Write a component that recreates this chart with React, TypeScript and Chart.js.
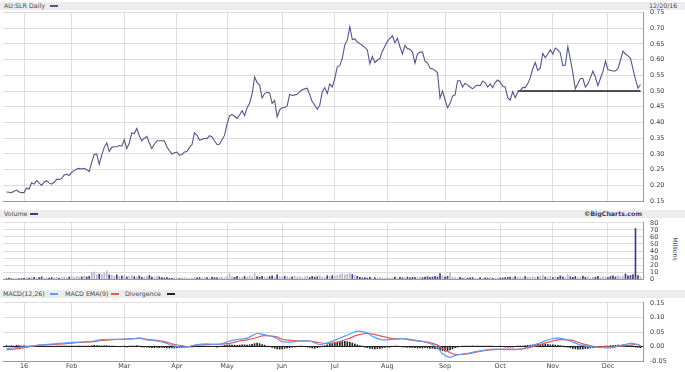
import React, { useEffect, useRef } from 'react';
import { Chart, registerables } from 'chart.js';
Chart.register(...registerables);

// ---------- categories (ASX trading days, 21 Dec 2015 – 20 Dec 2016) ----------
const asxHolidays = ['2015-12-25', '2015-12-28', '2016-01-01', '2016-01-26', '2016-03-25', '2016-03-28', '2016-04-25', '2016-06-13'];
function buildTradingDays(start: string, end: string, holidays: string[]): string[] {
  const out: string[] = [];
  const d = new Date(start + 'T00:00:00Z');
  const e = new Date(end + 'T00:00:00Z');
  while (d <= e) {
    const wd = d.getUTCDay();
    const iso = d.toISOString().slice(0, 10);
    if (wd !== 0 && wd !== 6 && holidays.indexOf(iso) < 0) out.push(iso);
    d.setUTCDate(d.getUTCDate() + 1);
  }
  return out;
}
const tradingDays = buildTradingDays('2015-12-21', '2016-12-20', asxHolidays);
const monthTickLabels = ['16', 'Feb', 'Mar', 'Apr', 'May', 'Jun', 'Jul', 'Aug', 'Sep', 'Oct', 'Nov', 'Dec'];
const monthTickDays = tradingDays
  .map((d, i) => ({ d, i }))
  .filter(({ d, i }) => i > 0 && d.slice(5, 7) !== tradingDays[i - 1].slice(5, 7))
  .map((o) => o.i);

// ---------- price (daily close) ----------
const closePrice = [
  0.179, 0.178, 0.177, 0.181, 0.185, 0.179, 0.177, 0.177, 0.192, 0.188,
  0.208, 0.204, 0.215, 0.208, 0.200, 0.210, 0.215, 0.208, 0.204, 0.210,
  0.219, 0.219, 0.222, 0.233, 0.235, 0.231, 0.242, 0.247, 0.252, 0.254,
  0.252, 0.254, 0.250, 0.244, 0.273, 0.298, 0.300, 0.267, 0.296, 0.321,
  0.335, 0.308, 0.321, 0.323, 0.323, 0.327, 0.325, 0.346, 0.317, 0.335,
  0.367, 0.365, 0.381, 0.358, 0.342, 0.350, 0.356, 0.335, 0.317, 0.331,
  0.342, 0.342, 0.342, 0.342, 0.323, 0.310, 0.300, 0.304, 0.306, 0.296,
  0.298, 0.306, 0.308, 0.321, 0.329, 0.367, 0.360, 0.344, 0.346, 0.350,
  0.348, 0.358, 0.354, 0.342, 0.330, 0.331, 0.345, 0.359, 0.395, 0.421,
  0.426, 0.420, 0.413, 0.424, 0.438, 0.422, 0.447, 0.461, 0.490, 0.545,
  0.527, 0.519, 0.478, 0.492, 0.496, 0.494, 0.461, 0.470, 0.418, 0.440,
  0.447, 0.447, 0.453, 0.490, 0.486, 0.488, 0.490, 0.498, 0.504, 0.507,
  0.509, 0.488, 0.467, 0.455, 0.442, 0.455, 0.498, 0.511, 0.492, 0.523,
  0.513, 0.540, 0.577, 0.581, 0.604, 0.647, 0.662, 0.705, 0.664, 0.666,
  0.656, 0.651, 0.645, 0.639, 0.631, 0.587, 0.610, 0.591, 0.598, 0.604,
  0.627, 0.643, 0.658, 0.668, 0.676, 0.653, 0.668, 0.641, 0.618, 0.645,
  0.635, 0.633, 0.625, 0.589, 0.618, 0.624, 0.624, 0.595, 0.589, 0.573,
  0.570, 0.566, 0.558, 0.478, 0.500, 0.472, 0.447, 0.461, 0.484, 0.488,
  0.533, 0.533, 0.513, 0.525, 0.519, 0.513, 0.507, 0.515, 0.519, 0.517,
  0.531, 0.527, 0.513, 0.523, 0.511, 0.527, 0.535, 0.529, 0.515, 0.513,
  0.479, 0.471, 0.498, 0.479, 0.496, 0.502, 0.511, 0.511, 0.523, 0.542,
  0.571, 0.591, 0.566, 0.573, 0.620, 0.606, 0.618, 0.631, 0.618, 0.637,
  0.631, 0.622, 0.581, 0.583, 0.641, 0.602, 0.558, 0.507, 0.523, 0.540,
  0.540, 0.513, 0.523, 0.542, 0.564, 0.544, 0.517, 0.540, 0.562, 0.595,
  0.568, 0.566, 0.564, 0.564, 0.571, 0.598, 0.627, 0.618, 0.612, 0.604,
  0.571, 0.537, 0.509, 0.521,
];
const supportLevel = 0.5;
const supportFrom = '2016-10-12';

// ---------- volume (millions) ----------
const volumeMillions = [
  0.5, 1.5, 0.8, 0.6, 0.5, 0.6, 0.8, 1.2,
  2.0, 1.5, 3.0, 2.5, 1.8, 2.2, 3.2, 1.6, 2.0, 1.5, 2.4, 1.8, 2.6, 1.5, 2.2, 3.0, 2.0, 2.8,
  3.5, 2.5, 4.0, 2.8, 3.2, 4.5, 3.0, 3.8,
  9.5, 10.5, 6.0,
  7.0, 6.5, 8.0, 11.5, 6.0,
  5.5, 4.0, 6.0, 3.5, 4.5, 5.0, 3.0, 4.0, 5.5, 3.5, 3.0, 4.5, 2.5,
  3.0,
  3.8, 5.0, 3.0, 2.5, 4.0, 3.2, 2.0,
  1.5, 2.0, 1.2, 1.0, 2.5, 1.5, 1.0, 1.8, 2.2, 1.2, 1.5, 1.0, 2.5, 1.8, 2.2, 1.5, 2.8, 2.0, 1.5, 3.0, 2.2, 1.8, 2.5, 3.0, 2.0, 3.5,
  8.0, 3.5, 2.5, 4.0, 3.0, 2.2, 3.8, 2.8, 4.5, 3.0,
  8.0,
  3.5, 2.5, 4.0, 3.0, 2.0, 3.5, 4.5, 2.8, 6.0, 3.0, 2.5, 4.0, 3.5, 2.2, 3.0, 4.5, 2.8, 3.5, 2.0, 3.0, 4.2, 2.5, 3.8, 2.8, 3.2, 4.5, 3.0, 2.5, 4.8, 3.5, 5.0, 4.0, 5.5,
  6.5, 7.5, 6.0, 7.0, 8.0, 6.5, 5.0, 4.0,
  2.5, 1.8, 2.2, 1.5, 2.8, 1.2, 2.0, 1.5, 2.5, 1.8, 1.2, 2.2, 1.5, 2.0, 2.8, 1.6, 2.4, 1.8, 2.2, 3.0, 1.8, 2.5, 2.0, 2.8, 3.2, 2.2, 3.0, 3.5, 2.5,
  3.0,
  4.0, 3.0,
  8.0, 5.0, 3.0, 4.0, 8.5,
  3.0, 2.0, 1.5, 2.5, 1.2, 2.0, 1.5, 1.8, 2.2, 1.2, 1.5, 2.0, 1.2, 1.8, 1.5, 2.5, 1.2, 1.6, 2.0, 1.4, 1.8, 2.2,
  2.5, 3.0, 2.2, 3.5, 2.5, 3.0, 2.0, 3.8, 2.5, 2.8, 3.2, 2.2, 3.0, 4.0,
  5.5,
  3.0, 2.5, 4.0, 2.2, 3.5, 2.8, 4.5, 3.0, 2.5, 6.0, 3.2, 2.5, 3.8, 2.2, 3.0, 4.2, 2.5, 3.5, 2.0, 3.0, 2.8, 4.0, 2.5, 3.2, 3.5, 2.2, 3.8, 4.5, 3.0, 5.0, 3.5, 4.0,
  7.5, 4.5, 5.0, 6.5,
  72,
  5.0, 3.0,
];

// ---------- MACD(12,26), EMA(9), divergence ----------
const macdDays = [0, 5, 9, 13, 19, 24, 29, 35, 37, 41, 47, 51, 53, 56, 60, 64, 66, 70, 72, 76, 80, 85, 89, 93, 96, 100, 102, 105, 108, 110, 113, 117, 121, 125, 129, 132, 137, 140, 144, 146, 150, 154, 158, 162, 168, 172, 174, 177, 179, 184, 189, 194, 200, 205, 209, 213, 217, 220, 224, 226, 230, 234, 240, 245, 249, 252, 253];
const macdLine = [-0.007, -0.003, 0.001, 0.005, 0.009, 0.013, 0.015, 0.019, 0.023, 0.025, 0.025, 0.027, 0.030, 0.023, 0.019, 0.011, 0.003, -0.002, -0.001, 0.007, 0.009, 0.007, 0.019, 0.025, 0.029, 0.045, 0.043, 0.037, 0.027, 0.017, 0.015, 0.019, 0.019, 0.007, 0.015, 0.025, 0.043, 0.053, 0.047, 0.035, 0.023, 0.025, 0.027, 0.023, 0.013, -0.003, -0.025, -0.037, -0.031, -0.023, -0.015, -0.009, -0.011, -0.009, 0.001, 0.013, 0.025, 0.029, 0.023, 0.015, 0.003, -0.001, -0.005, 0.003, 0.011, 0.007, 0.001];
const macdSignal = [-0.011, -0.007, -0.001, 0.005, 0.007, 0.010, 0.014, 0.017, 0.020, 0.023, 0.026, 0.027, 0.028, 0.025, 0.021, 0.015, 0.009, 0.003, -0.001, 0.005, 0.007, 0.008, 0.011, 0.019, 0.023, 0.031, 0.037, 0.037, 0.033, 0.025, 0.021, 0.019, 0.019, 0.013, 0.011, 0.015, 0.029, 0.039, 0.045, 0.043, 0.035, 0.027, 0.027, 0.021, 0.015, 0.005, -0.007, -0.021, -0.027, -0.025, -0.017, -0.011, -0.009, -0.009, -0.003, 0.007, 0.017, 0.023, 0.023, 0.021, 0.009, 0.001, -0.001, 0.001, 0.005, 0.007, 0.003];
const divergence = [
  0.003, 0.002, 0.003, 0.002, 0.004, 0.003, 0.002, 0.003, 0.002, 0.002, 0.001, 0.002,
  0.002, 0.001, 0.002, 0.001, 0.002, 0.001, 0.001, 0.002, 0.001, 0.001, 0.002, 0.002, 0.001, 0.002,
  0.002, 0.001, 0.001, 0.002, 0.001, 0.001, 0.001, 0.001, 0.003, 0.004, 0.003, 0.003, 0.002, 0.003, 0.003, 0.002, 0.001, 0.001, 0.000, 0.000,
  0.000, 0.001, -0.001, 0.001, 0.002, 0.002, 0.003, 0.001, -0.001,
  -0.001,
  -0.001, -0.003,
  -0.004, -0.004, -0.003, -0.004, -0.003, -0.004, -0.005, -0.005, -0.005, -0.005, -0.004, -0.004, -0.003, -0.003, -0.002, -0.001, -0.001,
  0.001, 0.002, 0.001, 0.001, 0.002, 0.001, 0.001, 0.000, 0.000, -0.001, 0.000, 0.002, 0.004, 0.005,
  0.006, 0.005, 0.005, 0.004, 0.005, 0.006, 0.006, 0.005, 0.006, 0.008, 0.010, 0.012, 0.010, 0.007, 0.005,
  0.002, 0.000, -0.003, -0.006, -0.008, -0.009, -0.008, -0.006, -0.005, -0.004, -0.002, -0.001, 0.000, 0.001,
  0.001, 0.000, -0.002, -0.003, -0.005, -0.006, -0.004, -0.002, 0.001, 0.003, 0.006,
  0.008, 0.010, 0.012, 0.014, 0.016, 0.017, 0.018, 0.017, 0.015, 0.012, 0.009, 0.006, 0.003, 0.001, -0.002, -0.004, -0.006,
  -0.007, -0.008, -0.007, -0.006, -0.005, -0.003, -0.002, -0.001, 0.000, 0.001, 0.001, 0.000, -0.001, -0.002, -0.003,
  -0.003, -0.004, -0.004, -0.005, -0.005, -0.005, -0.004, -0.005, -0.006,
  -0.006,
  -0.007, -0.008,
  -0.012, -0.014, -0.016, -0.015, -0.012, -0.008, -0.004, -0.002,
  0.000, 0.001, 0.001, 0.002, 0.001, 0.002, 0.001, 0.002, 0.002, 0.001, 0.002, 0.001, 0.001, 0.001, 0.000, 0.000, 0.001, 0.000, -0.001, -0.002, -0.002, -0.001, 0.000, 0.001, 0.002, 0.002, 0.003, 0.004,
  0.005, 0.006, 0.007, 0.008, 0.008, 0.007, 0.008, 0.007, 0.006, 0.006, 0.005, 0.004, 0.003, 0.001, -0.001,
  -0.002, -0.004, -0.006, -0.008, -0.009, -0.009, -0.008, -0.007, -0.006, -0.005, -0.004, -0.003, -0.002, -0.001,
  0.000, 0.001, 0.002, 0.003, 0.003, 0.004, 0.005, 0.005, 0.006, 0.005, 0.004, 0.003, 0.001, -0.001, -0.003, -0.004,
];

// ---------- styles ----------
const FONT = 'DejaVu Sans';
const GRID = '#dddddd';
const BORDER = '#9a9a9a';
const TICK = '#444444';
const PRICE_COLOR = '#55558a';
const VOL_DARK = '#3d3d7a';
const VOL_LIGHT = '#b6b6cc';
const MACD_BLUE = '#5c9cff';
const MACD_RED = '#e05a5a';
const X_MIN = -1.4;
const X_MAX = 254;

function xScale(showLabels: boolean): any {
  return {
    type: 'linear',
    min: X_MIN,
    max: X_MAX,
    offset: false,
    afterBuildTicks: (s: any) => {
      s.ticks = monthTickDays.map((v) => ({ value: v }));
    },
    afterFit: (s: any) => {
      s.height = showLabels ? 9 : 0;
    },
    grid: { color: GRID, drawTicks: false, lineWidth: 1, offset: false },
    border: { display: true, color: BORDER },
    ticks: {
      display: showLabels,
      autoSkip: false,
      maxRotation: 0,
      padding: 1,
      font: { family: FONT, size: 6.5 },
      color: TICK,
      callback: (v: number) => {
        const k = monthTickDays.indexOf(v);
        return k >= 0 ? monthTickLabels[k] : '';
      },
    },
  };
}

function yScale(min: number, max: number, step: number, fmt: (v: number) => string, zeroLine = false): any {
  return {
    position: 'right',
    min,
    max,
    afterBuildTicks: (s: any) => {
      const t: any[] = [];
      const n = Math.round((max - min) / step);
      for (let k = 0; k <= n; k++) t.push({ value: +(min + k * step).toFixed(4) });
      s.ticks = t;
    },
    afterFit: (s: any) => {
      s.width = 42;
    },
    grid: {
      drawTicks: false,
      color: (c: any) => (zeroLine && c.tick && Math.abs(c.tick.value) < 1e-9 ? '#222222' : GRID),
    },
    border: { display: true, color: BORDER },
    ticks: { autoSkip: false, padding: 7, font: { family: FONT, size: 6.5 }, color: TICK, callback: fmt },
  };
}

function ChartCanvas({ top, height, padTop, padBottom, build }: { top: number; height: number; padTop: number; padBottom: number; build: () => any }) {
  const ref = useRef<HTMLCanvasElement | null>(null);
  useEffect(() => {
    if (!ref.current) return;
    const cfg = build();
    cfg.options = {
      ...cfg.options,
      animation: false,
      responsive: false,
      maintainAspectRatio: false,
      devicePixelRatio: 1,
      layout: { padding: { left: 3, right: 0, top: padTop, bottom: padBottom } },
      plugins: { legend: { display: false }, tooltip: { enabled: false } },
    };
    const chart = new Chart(ref.current, cfg);
    return () => chart.destroy();
  }, []);
  return (
    <canvas
      ref={ref}
      width={685}
      height={height}
      style={{ position: 'absolute', left: 0, top, width: 685, height }}
    />
  );
}

function buildPrice(): any {
  const supportStart = tradingDays.indexOf(supportFrom);
  const supportData = tradingDays
    .map((_, i) => ({ x: i, y: supportLevel }))
    .filter((p) => p.x >= supportStart);
  return {
    type: 'line',
    data: {
      datasets: [
        {
          data: supportData,
          borderColor: '#1a1a1a',
          borderWidth: 1.5,
          pointRadius: 0,
          order: 2,
        },
        {
          data: closePrice.map((v, i) => ({ x: i, y: v })),
          borderColor: PRICE_COLOR,
          borderWidth: 1.1,
          pointRadius: 0,
          tension: 0,
          order: 1,
        },
      ],
    },
    options: {
      scales: {
        x: xScale(false),
        y: yScale(0.15, 0.75, 0.05, (v: number) => v.toFixed(2)),
      },
    },
  };
}

function buildVolume(): any {
  return {
    type: 'bar',
    data: {
      datasets: [
        {
          data: volumeMillions.map((v, i) => ({ x: i, y: v })),
          backgroundColor: volumeMillions.map((_, i) =>
            i > 0 && closePrice[i] > closePrice[i - 1] ? VOL_LIGHT : VOL_DARK
          ),
          barThickness: 1,
        },
      ],
    },
    options: {
      scales: {
        x: xScale(false),
        y: yScale(0, 80, 10, (v: number) => String(v)),
      },
    },
  };
}

function buildMacd(): any {
  return {
    type: 'bar',
    data: {
      datasets: [
        {
          type: 'line',
          data: macdDays.map((d, k) => ({ x: d, y: macdLine[k] })),
          borderColor: MACD_BLUE,
          borderWidth: 1.2,
          pointRadius: 0,
          tension: 0.3,
          order: 1,
        },
        {
          type: 'line',
          data: macdDays.map((d, k) => ({ x: d, y: macdSignal[k] })),
          borderColor: MACD_RED,
          borderWidth: 1.2,
          pointRadius: 0,
          tension: 0.3,
          order: 2,
        },
        {
          type: 'bar',
          data: divergence.map((v, i) => ({ x: i, y: v })),
          backgroundColor: '#222222',
          barThickness: 1,
          order: 3,
        },
      ],
    },
    options: {
      scales: {
        x: xScale(true),
        y: yScale(-0.05, 0.15, 0.05, (v: number) => v.toFixed(2), true),
      },
    },
  };
}

const bandStyle = (top: number): React.CSSProperties => ({
  position: 'absolute',
  left: 0,
  top,
  width: 685,
  height: 8,
  background: '#ececec',
});
const textStyle: React.CSSProperties = {
  position: 'absolute',
  top: 0,
  fontFamily: FONT,
  fontSize: 6.3,
  lineHeight: '8px',
  color: '#4a4a4a',
  whiteSpace: 'nowrap',
};
const swatch = (left: number, color: string): React.CSSProperties => ({
  position: 'absolute',
  left,
  top: 3,
  width: 8,
  height: 2,
  background: color,
});

export default function App() {
  return (
    <div style={{ position: 'absolute', left: 0, top: 0, width: 685, height: 372, background: '#fff', overflow: 'hidden' }}>
      {/* price header */}
      <div style={bandStyle(2)}>
        <span style={{ ...textStyle, left: 4 }}>AU:SLR Daily</span>
        <span style={swatch(50, PRICE_COLOR)} />
        <span style={{ ...textStyle, left: 649 }}>12/20/16</span>
      </div>
      {/* volume header */}
      <div style={bandStyle(209.5)}>
        <span style={{ ...textStyle, left: 4 }}>Volume</span>
        <span style={swatch(30, VOL_DARK)} />
        <span style={{ ...textStyle, left: 584, fontWeight: 'bold', color: '#3a3a66' }}>©BigCharts.com</span>
      </div>
      {/* macd header */}
      <div style={bandStyle(289.5)}>
        <span style={{ ...textStyle, left: 3 }}>MACD(12,26)</span>
        <span style={swatch(50, MACD_BLUE)} />
        <span style={{ ...textStyle, left: 65 }}>MACD EMA(9)</span>
        <span style={swatch(111, MACD_RED)} />
        <span style={{ ...textStyle, left: 125 }}>Divergence</span>
        <span style={swatch(167, '#222')} />
      </div>
      <div
        style={{
          position: 'absolute',
          left: 675 - 15,
          top: 249 - 4,
          width: 30,
          height: 8,
          fontFamily: FONT,
          fontSize: 6.3,
          lineHeight: '8px',
          color: '#444',
          textAlign: 'center',
          transform: 'rotate(90deg)',
        }}
      >
        Millions
      </div>
      <ChartCanvas top={0} height={212} padTop={12.5} padBottom={7} build={buildPrice} />
      <ChartCanvas top={212} height={78} padTop={7.5} padBottom={5.5} build={buildVolume} />
      <ChartCanvas top={292} height={80} padTop={6.5} padBottom={0} build={buildMacd} />
    </div>
  );
}
